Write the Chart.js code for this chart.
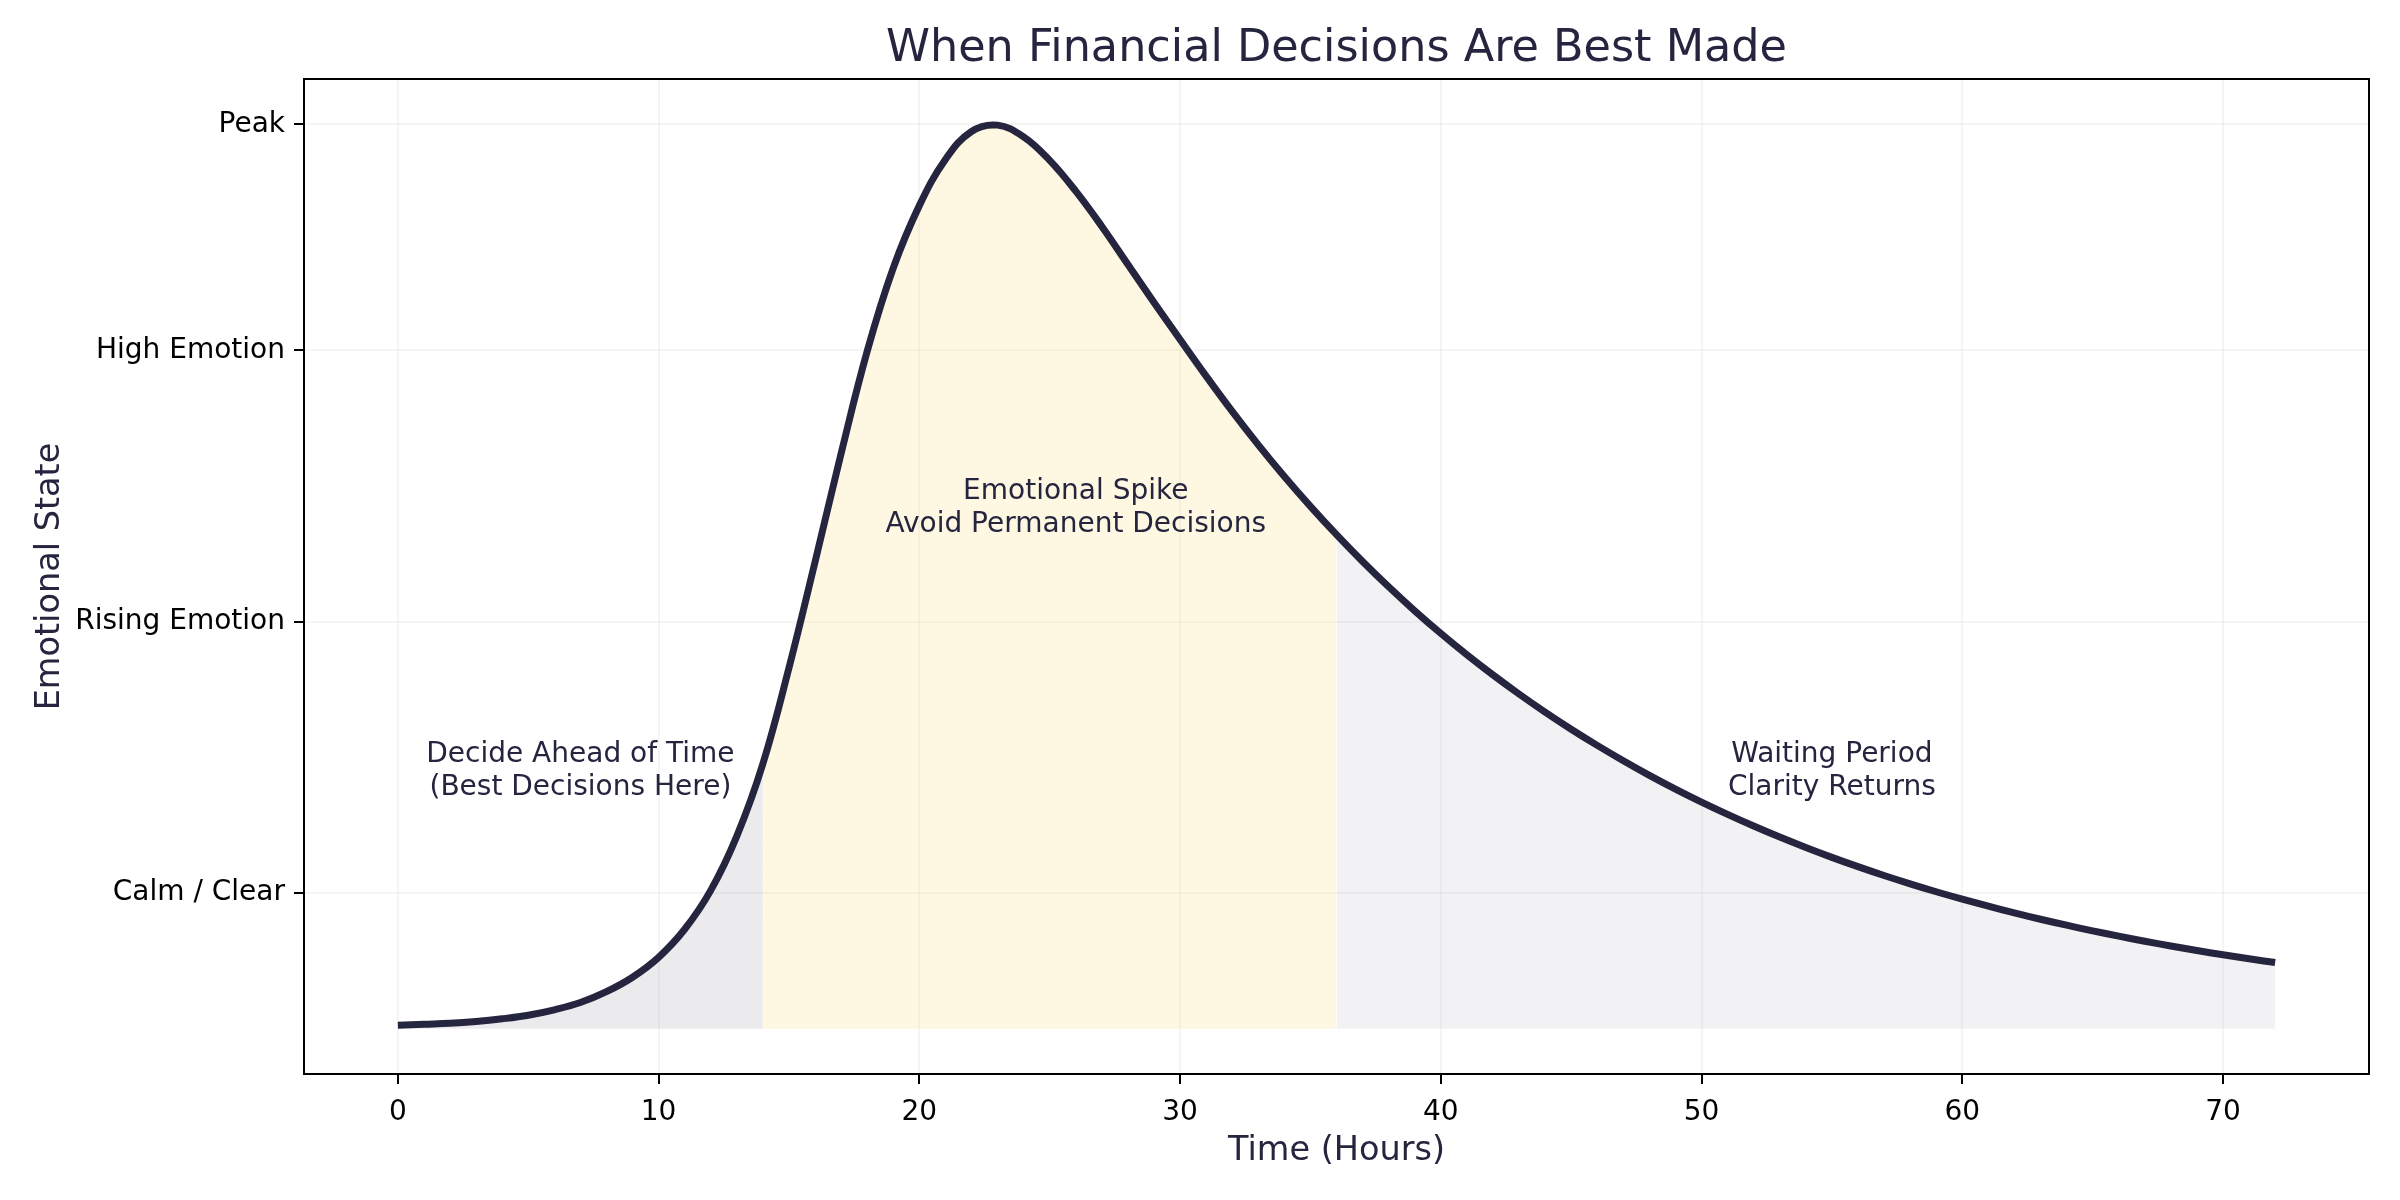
<!DOCTYPE html>
<html>
<head>
<meta charset="utf-8">
<title>When Financial Decisions Are Best Made</title>
<script src="https://cdn.jsdelivr.net/npm/chart.js@4.4.1/dist/chart.umd.min.js"></script>
<style>
  html, body { margin: 0; padding: 0; background: #ffffff; }
  #wrap { width: 2400px; height: 1200px; }
</style>
</head>
<body>
<div id="wrap"><canvas id="grafico" width="2400" height="1200"></canvas></div>
<script>
// horas desde el evento
const hours = [0, 1, 2, 3, 4, 5, 6, 7, 8, 9, 10, 11, 12, 13, 14, 15, 16, 17, 18, 19, 20,
  21, 22, 23, 24, 25, 26, 27, 28, 29, 30, 31, 32, 33, 34, 35, 36, 37, 38, 39, 40,
  41, 42, 43, 44, 45, 46, 47, 48, 49, 50, 51, 52, 53, 54, 55, 56, 57, 58, 59, 60,
  61, 62, 63, 64, 65, 66, 67, 68, 69, 70, 71, 72]

// nivel emocional (0 = calma, 1 = pico)
const emotion = [0.004, 0.005, 0.006, 0.008, 0.011, 0.015, 0.021, 0.029, 0.041, 0.057, 0.079,
  0.110, 0.153, 0.213, 0.293, 0.399, 0.516, 0.636, 0.749, 0.841, 0.910,
  0.961, 0.992, 0.999, 0.986, 0.960, 0.926, 0.887, 0.845, 0.803, 0.762,
  0.7215, 0.6825, 0.6455, 0.6105, 0.5775, 0.5462, 0.5166, 0.4886, 0.4621, 0.4371,
  0.4135, 0.3912, 0.3701, 0.3501, 0.3312, 0.3133, 0.2963, 0.2802, 0.2650, 0.2506,
  0.2370, 0.2241, 0.2119, 0.2004, 0.1895, 0.1792, 0.1694, 0.1602, 0.1515, 0.1433,
  0.1355, 0.1281, 0.1211, 0.1145, 0.1083, 0.1024, 0.0968, 0.0915, 0.0865, 0.0818,
  0.0774, 0.0732]

// limites de las zonas sombreadas (horas)
const zoneLimits = [14, 36]

const xTicks = [0, 10, 20, 30, 40, 50, 60, 70]
const yTicks = [0.15, 0.45, 0.75, 1.0]
const yTickLabels = ["Calm / Clear", "Rising Emotion", "High Emotion", "Peak"]

const notes = [
  { x: 7, y: 0.285, lines: ["Decide Ahead of Time", "(Best Decisions Here)"] },
  { x: 26, y: 0.575, lines: ["Emotional Spike", "Avoid Permanent Decisions"] },
  { x: 55, y: 0.285, lines: ["Waiting Period", "Clarity Returns"] }
]

const navy = "#25253f"
const fuente = "DejaVu Sans"
const colorDecide = "rgba(37,37,63,0.09)"
const colorSpike = "rgba(249,213,110,0.2)"
const colorWait = "rgba(37,37,63,0.06)"

let puntos = hours.map((h, i) => ({ x: h, y: emotion[i] }))

// color de relleno segun la zona del tramo
let colorZona = (seg) => {
  let x0 = seg.p0.parsed.x
  if (x0 < zoneLimits[0]) return colorDecide
  if (x0 < zoneLimits[1]) return colorSpike
  return colorWait
}

// caja completa alrededor del area del grafico
const marco = {
  id: "marco",
  afterDraw(chart) {
    let { ctx, chartArea } = chart
    ctx.save()
    ctx.strokeStyle = "#000"
    ctx.lineWidth = 2
    ctx.strokeRect(chartArea.left, chartArea.top, chartArea.right - chartArea.left, chartArea.bottom - chartArea.top)
    ctx.restore()
  }
}

const notas = {
  id: "notas",
  afterDatasetsDraw(chart) {
    let ctx = chart.ctx
    let sx = chart.scales.x
    let sy = chart.scales.y
    ctx.save()
    ctx.font = "28px '" + fuente + "'"
    ctx.fillStyle = navy
    ctx.textAlign = "center"
    ctx.textBaseline = "middle"
    notes.forEach(n => {
      let px = sx.getPixelForValue(n.x)
      let py = sy.getPixelForValue(n.y)
      let alto = 33
      let y0 = py - alto * (n.lines.length - 1) / 2
      n.lines.forEach((t, i) => ctx.fillText(t, px, y0 + i * alto))
    })
    ctx.restore()
  }
}

let ctx = document.getElementById("grafico").getContext("2d")

let ejeGrid = {
  color: "rgba(0,0,0,0.04)",
  lineWidth: 2,
  tickColor: "#000",
  tickWidth: 2,
  tickLength: 10
}

new Chart(ctx, {
  type: "line",
  data: {
    datasets: [
      {
        data: puntos,
        borderColor: navy,
        borderWidth: 7,
        pointRadius: 0,
        fill: false,
        tension: 0.4
      },
      {
        data: puntos,
        borderWidth: 0,
        borderColor: "rgba(0,0,0,0)",
        pointRadius: 0,
        fill: "origin",
        backgroundColor: colorWait,
        tension: 0.4,
        segment: { backgroundColor: colorZona }
      }
    ]
  },
  options: {
    responsive: false,
    animation: false,
    devicePixelRatio: 1,
    layout: { padding: { left: 0, right: 31, top: 0, bottom: 0 } },
    plugins: {
      legend: { display: false },
      tooltip: { enabled: false },
      title: {
        display: true,
        fullSize: false,
        text: "When Financial Decisions Are Best Made",
        color: navy,
        font: { family: fuente, size: 44.5, weight: "normal" },
        padding: { top: 23, bottom: 2.6 }
      }
    },
    scales: {
      x: {
        type: "linear",
        min: -3.6,
        max: 75.6,
        afterBuildTicks: (scale) => { scale.ticks = xTicks.map(v => ({ value: v })) },
        afterFit: (scale) => { scale.height = 126 },
        grid: ejeGrid,
        border: { display: false },
        ticks: {
          color: "#000",
          padding: 12,
          maxRotation: 0,
          font: { family: fuente, size: 28 }
        },
        title: {
          display: true,
          text: "Time (Hours)",
          color: navy,
          font: { family: fuente, size: 33.5 },
          padding: { top: 0, bottom: 29 }
        }
      },
      y: {
        type: "linear",
        min: -0.05,
        max: 1.05,
        afterBuildTicks: (scale) => { scale.ticks = yTicks.map(v => ({ value: v })) },
        afterFit: (scale) => { scale.width = 304 },
        grid: ejeGrid,
        border: { display: false },
        ticks: {
          color: "#000",
          padding: 9,
          font: { family: fuente, size: 28 },
          callback: (value, index) => yTickLabels[index]
        },
        title: {
          display: true,
          text: "Emotional State",
          color: navy,
          font: { family: fuente, size: 33.5 },
          padding: { top: 30, bottom: 0 }
        }
      }
    }
  },
  plugins: [marco, notas]
})
</script>
</body>
</html>
